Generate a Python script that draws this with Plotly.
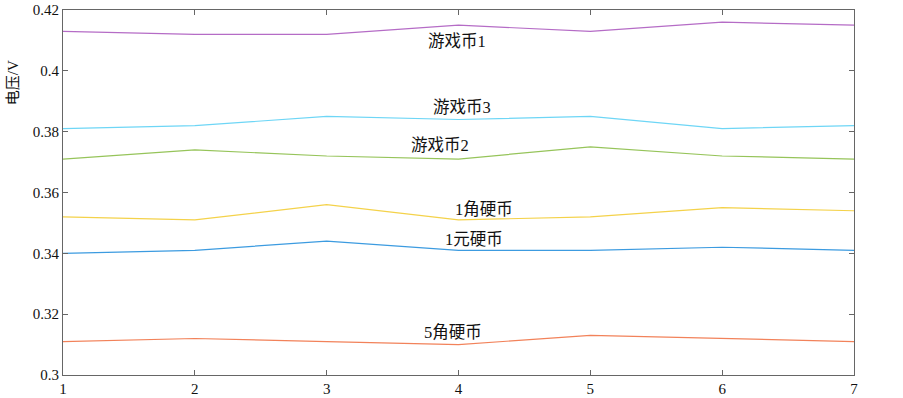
import plotly.graph_objects as go

x = [1, 2, 3, 4, 5, 6, 7]
youxibi1 = [0.413, 0.412, 0.412, 0.415, 0.413, 0.416, 0.415]
youxibi3 = [0.381, 0.382, 0.385, 0.384, 0.385, 0.381, 0.382]
youxibi2 = [0.371, 0.374, 0.372, 0.371, 0.375, 0.372, 0.371]
jiao1 = [0.352, 0.351, 0.356, 0.351, 0.352, 0.355, 0.354]
yuan1 = [0.340, 0.341, 0.344, 0.341, 0.341, 0.342, 0.341]
jiao5 = [0.311, 0.312, 0.311, 0.310, 0.313, 0.312, 0.311]

series = [
    ("游戏币1", youxibi1, "#B56CC6"),
    ("游戏币3", youxibi3, "#6ED6F6"),
    ("游戏币2", youxibi2, "#96C45A"),
    ("1角硬币", jiao1, "#F4D24A"),
    ("1元硬币", yuan1, "#3C9BE0"),
    ("5角硬币", jiao5, "#F2825A"),
]

labels = ["游戏币1", "游戏币3", "游戏币2", "1角硬币", "1元硬币", "5角硬币"]
label_x = [3.99, 4.03, 3.86, 4.19, 4.12, 3.96]
label_y = [0.4095, 0.3880, 0.3756, 0.3543, 0.3447, 0.3141]

font_family = "Liberation Serif, Noto Sans CJK SC, serif"

fig = go.Figure()
for name, vals, col in series:
    fig.add_trace(go.Scatter(x=x, y=vals, mode="lines", name=name,
                             line=dict(color=col, width=1.2)))

for t, lx, ly in zip(labels, label_x, label_y):
    fig.add_annotation(x=lx, y=ly, text=t, showarrow=False,
                       font=dict(family=font_family, size=16.5, color="#111"),
                       xanchor="center", yanchor="middle")

fig.add_annotation(xref="paper", yref="paper", x=-0.063, y=0.80, text="电压/V",
                   textangle=-90, showarrow=False,
                   font=dict(family=font_family, size=15, color="#111"),
                   xanchor="center", yanchor="middle")

axis_common = dict(showgrid=False, zeroline=False, showline=True, linecolor="#666",
                   linewidth=1, mirror="ticks", ticks="inside", ticklen=5,
                   tickcolor="#666", automargin=False,
                   tickfont=dict(family=font_family, size=15, color="#111"))

fig.update_xaxes(range=[1, 7], tickvals=x, ticktext=[str(v) for v in x], **axis_common)
fig.update_yaxes(range=[0.3, 0.42],
                 tickvals=[0.3, 0.32, 0.34, 0.36, 0.38, 0.4, 0.42],
                 ticktext=["0.3", "0.32", "0.34", "0.36", "0.38", "0.4", "0.42"],
                 **axis_common)

fig.update_layout(width=903, height=398, margin=dict(l=63, r=49, t=10, b=23, pad=0),
                  plot_bgcolor="white", paper_bgcolor="white", showlegend=False)

fig.write_html("out.html", config={"displayModeBar": False},
               post_script="document.body.style.margin='0';document.body.style.padding='0';")
